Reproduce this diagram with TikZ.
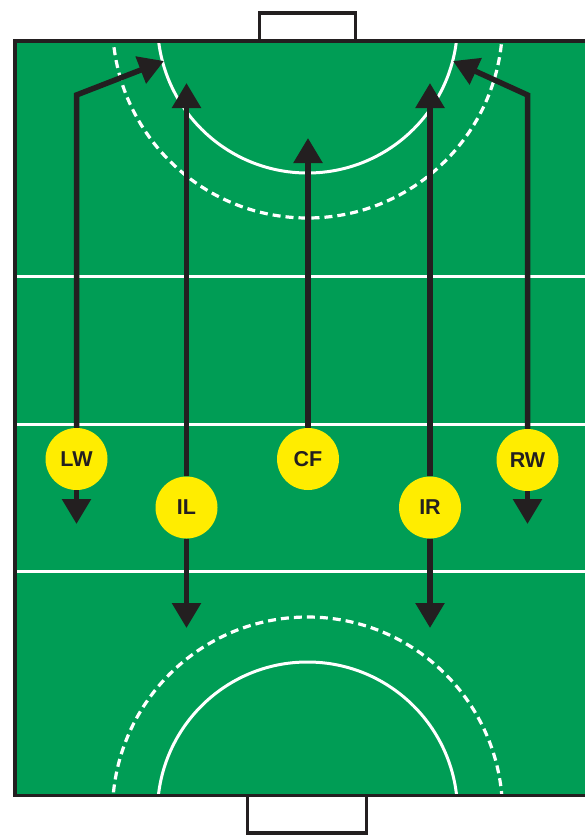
\documentclass[tikz,border=0pt]{standalone}
\usepackage{fontspec}
\setmainfont{Liberation Sans}
\usetikzlibrary{arrows.meta}
\definecolor{turf}{RGB}{0,157,85}
\definecolor{bib}{RGB}{255,237,0}
\definecolor{ink}{RGB}{35,31,32}

\begin{document}
\begin{tikzpicture}[
    x=1pt, y=-1pt,
    player/.style={circle, fill=bib, minimum size=62pt, inner sep=0pt, text=ink,
                 font=\fontsize{21.5}{25}\selectfont\bfseries},
    arr/.style={-{Triangle[length=25pt, width=28pt]}, line width=5.5pt, ink, line join=miter},
    pitchline/.style={white, line width=3pt},
    dashline/.style={pitchline, line width=3.2pt, dash pattern=on 8pt off 5pt},
    border/.style={ink, line width=3.3pt, line join=miter}
]
\useasboundingbox (0,0) rectangle (584,835);
% pitch and markings
\fill[turf] (15,41) rectangle (600,795.5);
\draw[pitchline] (15,276) -- (600,276);
\draw[pitchline] (15,424) -- (600,424);
\draw[pitchline] (15,571.5) -- (600,571.5);
\begin{scope}
  \clip (15,41) rectangle (600,795.5);
  \draw[pitchline] (307.5,23) circle[radius=150pt];
  \draw[dashline] (307.5,23) circle[radius=195pt];
  \draw[pitchline] (307.5,812) circle[radius=150pt];
  \draw[dashline] (307.5,812) circle[radius=195pt];
\end{scope}
\draw[border] (600,41) -- (15,41) -- (15,795.5) -- (600,795.5);
% goals
\draw[border, fill=white] (259.5,41) rectangle (355.5,13);
\draw[border, fill=white] (247.5,795.5) rectangle (366.5,833);

% players
\node[player] (LW) at (76.5,459) {LW};
\node[player] (IL) at (186.5,507.5) {IL};
\node[player] (CF) at (308,459) {CF};
\node[player] (IR) at (430,507.5) {IR};
\node[player] (RW) at (527.5,460) {RW};

% where they run
\coordinate (LWbend) at (76.5,95);
\coordinate (LWgoal) at (164,61);
\coordinate (LWback) at (76.5,524);
\coordinate (ILfwd) at (186.5,83);
\coordinate (ILback) at (186.5,628);
\coordinate (CFfwd) at (308,138);
\coordinate (IRfwd) at (430,83);
\coordinate (IRback) at (430,628);
\coordinate (RWbend) at (527.5,95);
\coordinate (RWgoal) at (453,61);
\coordinate (RWback) at (527.5,524);

\draw[arr] (LW) -- (LWbend) -- (LWgoal);
\draw[arr] (LW) -- (LWback);
\draw[arr] (IL) -- (ILfwd);
\draw[arr] (IL) -- (ILback);
\draw[arr] (CF) -- (CFfwd);
\draw[arr] (IR) -- (IRfwd);
\draw[arr] (IR) -- (IRback);
\draw[arr] (RW) -- (RWbend) -- (RWgoal);
\draw[arr] (RW) -- (RWback);
\end{tikzpicture}
\end{document}
